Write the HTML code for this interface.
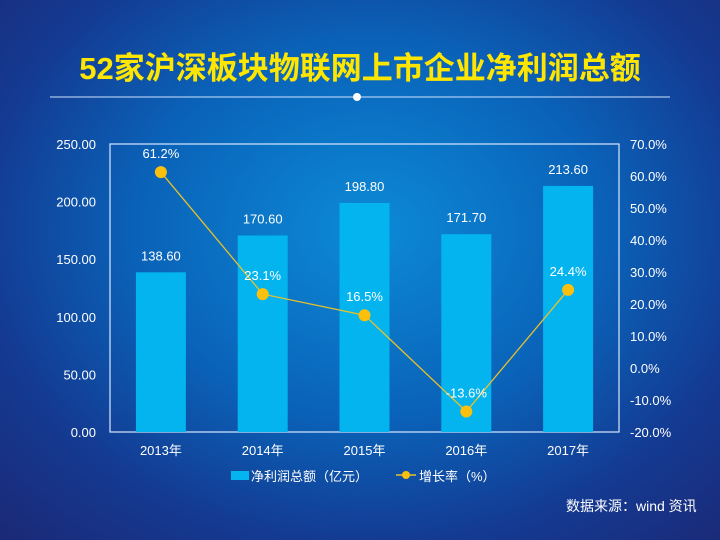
<!DOCTYPE html>
<html><head><meta charset="utf-8">
<style>
html,body{margin:0;padding:0;width:720px;height:540px;overflow:hidden}
body{font-family:"Liberation Sans","Noto Sans CJK SC",sans-serif;
background:radial-gradient(ellipse 520px 420px at 370px 230px,#0c8ad6 0%,#0a62b8 45%,#143a92 75%,#1b2a78 100%);}
svg{display:block}
svg text{font-family:"Liberation Sans","Noto Sans CJK SC",sans-serif}
</style></head><body>
<svg width="720" height="540">
<text x="360" y="79" text-anchor="middle" font-size="31" font-weight="bold" fill="#ffe600">52家沪深板块物联网上市企业净利润总额</text>
<line x1="50" y1="97" x2="670" y2="97" stroke="#cfe3ff" stroke-width="1"/>
<circle cx="357" cy="97" r="4" fill="#ffffff"/>
<g id="plot"></g>
<text x="566" y="511" font-size="14" fill="#fff">数据来源：wind 资讯</text>
</svg>
<script>
const categories=["2013年","2014年","2015年","2016年","2017年"];
const profits=[138.6,170.6,198.8,171.7,213.6];
const growth=[61.2,23.1,16.5,-13.6,24.4];
const leftTicks=[0,50,100,150,200,250];
const rightTicks=[-20,-10,0,10,20,30,40,50,60,70];
const NS="http://www.w3.org/2000/svg";
const g=document.getElementById('plot');
const X0=110,X1=619,Y0=432,Y1=144;
const band=(X1-X0)/categories.length;
const xc=i=>X0+band*(i+0.5);
const yL=v=>Y0-(v-0)/(250-0)*(Y0-Y1);
const yR=v=>Y0-(v+20)/(90)*(Y0-Y1);
function mk(t,a,txt){const e=document.createElementNS(NS,t);for(const k in a)e.setAttribute(k,a[k]);if(txt!==undefined)e.textContent=txt;g.appendChild(e);return e;}
let e;
e=mk('rect',{x:X0,y:Y1,width:X1-X0,height:Y0-Y1,fill:'none',stroke:'#d8e8ff','stroke-width':1.2});


leftTicks.forEach(v=>{
 e=mk('text',{x:96,y:yL(v)+5,'text-anchor':'end','font-size':13,fill:'#fff'},v.toFixed(2));
 
 
});
rightTicks.forEach(v=>{
 e=mk('text',{x:630,y:yR(v)+5,'font-size':13,fill:'#fff'},v.toFixed(1)+'%');
 
 
});
categories.forEach((c,i)=>{
 e=mk('text',{x:xc(i),y:455,'text-anchor':'middle','font-size':13,fill:'#fff'},c);
 
 
});
profits.forEach((v,i)=>{
 e=mk('rect',{x:xc(i)-25,y:yL(v),width:50,height:Y0-yL(v),fill:'#03b4ef'});
 
 
 e=mk('text',{x:xc(i),y:yL(v)-12,'text-anchor':'middle','font-size':13,fill:'#fff'},v.toFixed(2));
 
 
});
const pts=growth.map((v,i)=>xc(i)+','+yR(v)).join(' ');
e=mk('polyline',{points:pts,fill:'none',stroke:'#e8c12a','stroke-width':1.3});


growth.forEach((v,i)=>{
 e=mk('circle',{cx:xc(i),cy:yR(v),r:6,fill:'#fbbf0e'});
 
 
 e=mk('text',{x:xc(i),y:yR(v)-14,'text-anchor':'middle','font-size':13,fill:'#fff'},v.toFixed(1)+'%');
 
 
});
e=mk('rect',{x:231,y:471,width:18,height:9,fill:'#03b4ef'});


e=mk('text',{x:251,y:481,'font-size':13,fill:'#fff'},'净利润总额（亿元）');


e=mk('line',{x1:396,y1:475,x2:416,y2:475,stroke:'#e8c12a','stroke-width':1.5});


e=mk('circle',{cx:406,cy:475,r:4,fill:'#fbbf0e'});


e=mk('text',{x:419,y:481,'font-size':13,fill:'#fff'},'增长率（%）');


</script>
</body></html>
